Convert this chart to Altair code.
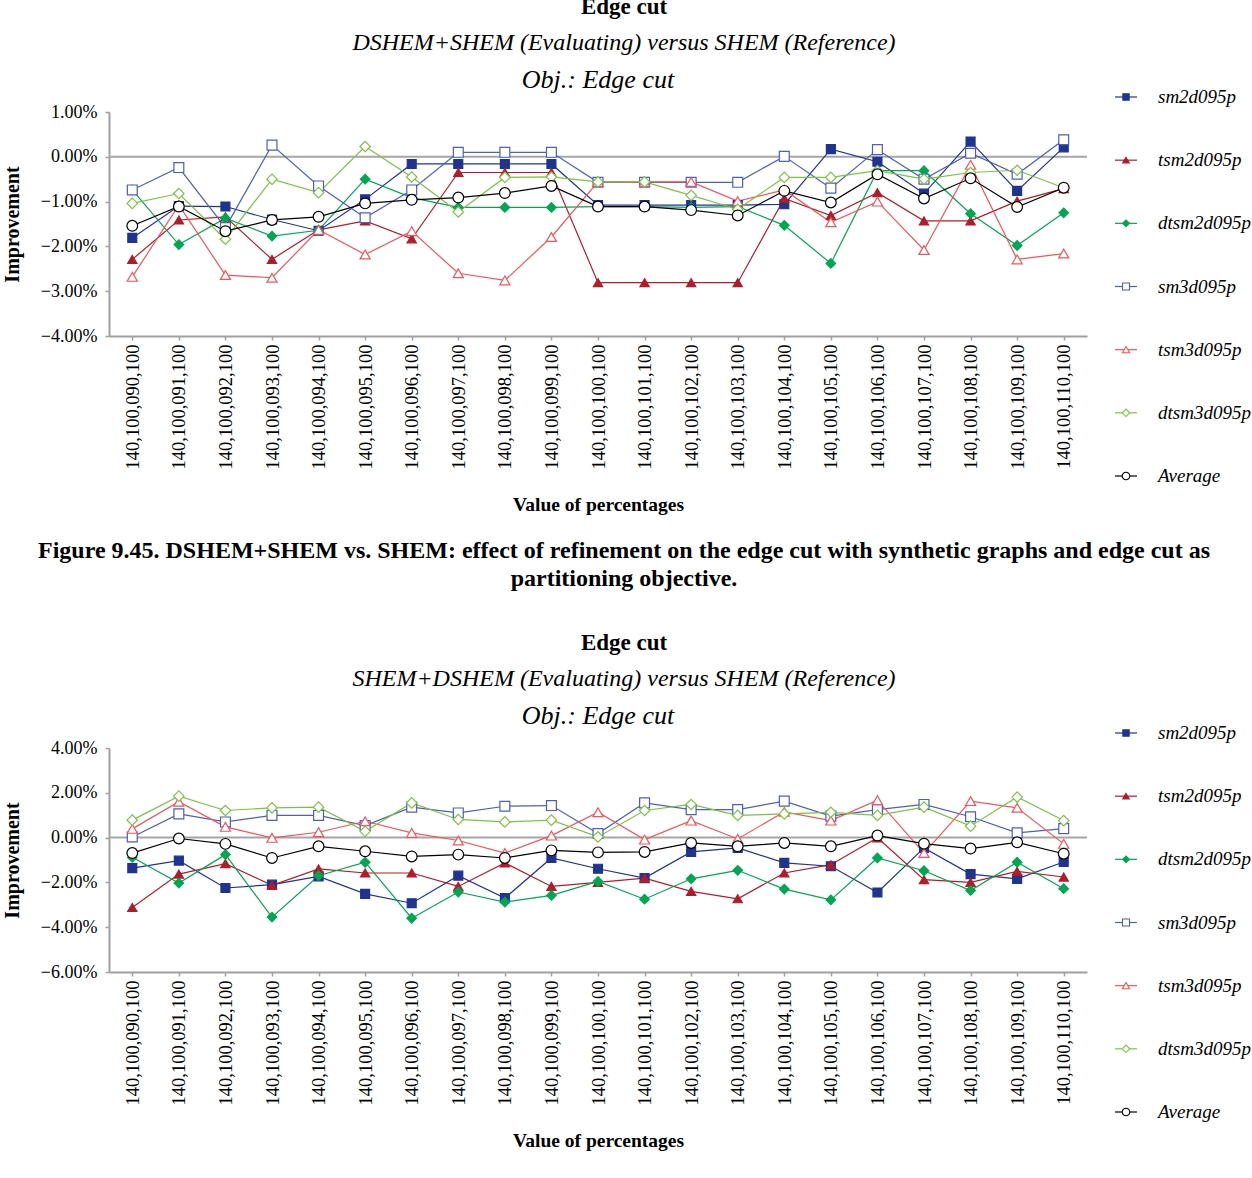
import altair as alt
import pandas as pd

FONT = "Liberation Serif"

categories = [
    "140,100,090,100", "140,100,091,100", "140,100,092,100", "140,100,093,100",
    "140,100,094,100", "140,100,095,100", "140,100,096,100", "140,100,097,100",
    "140,100,098,100", "140,100,099,100", "140,100,100,100", "140,100,101,100",
    "140,100,102,100", "140,100,103,100", "140,100,104,100", "140,100,105,100",
    "140,100,106,100", "140,100,107,100", "140,100,108,100", "140,100,109,100",
    "140,100,110,100",
]

series_names = ["sm2d095p", "tsm2d095p", "dtsm2d095p", "sm3d095p", "tsm3d095p", "dtsm3d095p", "Average"]

# Top chart: DSHEM+SHEM vs SHEM (values in %)
top_sm2d = [-1.81, -1.10, -1.11, -1.40, -1.65, -0.95, -0.16, -0.16, -0.16, -0.16, -1.08,
            -1.08, -1.08, -1.08, -1.06, 0.17, -0.11, -0.82, 0.34, -0.76, 0.21]
top_tsm2d = [-2.29, -1.41, -1.34, -2.29, -1.63, -1.43, -1.83, -0.35, -0.35, -0.35, -2.81,
             -2.81, -2.81, -2.81, -0.93, -1.31, -0.80, -1.43, -1.43, -0.99, -0.71]
top_dtsm2d = [-0.74, -1.96, -1.37, -1.77, -1.64, -0.50, -0.91, -1.13, -1.13, -1.13, -1.11,
              -1.11, -1.13, -1.11, -1.53, -2.38, -0.31, -0.31, -1.27, -1.98, -1.25]
top_sm3d = [-0.74, -0.24, -1.58, 0.26, -0.65, -1.36, -0.74, 0.10, 0.10, 0.10, -0.57,
            -0.57, -0.57, -0.57, 0.01, -0.70, 0.16, -0.50, 0.08, -0.39, 0.38]
top_tsm3d = [-2.68, -1.08, -2.64, -2.70, -1.63, -2.18, -1.66, -2.60, -2.76, -1.79, -0.56,
             -0.56, -0.56, -0.99, -0.74, -1.46, -1.00, -2.08, -0.18, -2.29, -2.16]
top_dtsm3d = [-1.04, -0.82, -1.84, -0.50, -0.80, 0.23, -0.45, -1.23, -0.46, -0.45, -0.56,
              -0.56, -0.86, -1.17, -0.46, -0.46, -0.31, -0.50, -0.35, -0.30, -0.69]
top_avg = [-1.54, -1.11, -1.66, -1.41, -1.34, -1.04, -0.96, -0.91, -0.81, -0.65, -1.11,
           -1.11, -1.19, -1.31, -0.76, -1.02, -0.39, -0.93, -0.48, -1.12, -0.69]

# Bottom chart: SHEM+DSHEM vs SHEM (values in %)
bot_sm2d = [-1.36, -1.03, -2.25, -2.10, -1.73, -2.51, -2.93, -1.70, -2.70, -0.91, -1.39,
            -1.81, -0.64, -0.46, -1.13, -1.28, -2.45, -0.46, -1.63, -1.84, -1.09]
bot_tsm2d = [-3.12, -1.63, -1.16, -2.13, -1.40, -1.58, -1.58, -2.18, -1.13, -2.18, -2.00,
             -1.81, -2.40, -2.73, -1.58, -1.21, -0.01, -1.88, -2.00, -1.51, -1.76]
bot_dtsm2d = [-0.88, -2.03, -0.76, -3.55, -1.70, -1.10, -3.60, -2.43, -2.88, -2.58, -1.96,
              -2.75, -1.84, -1.46, -2.30, -2.78, -0.91, -1.48, -2.36, -1.10, -2.28]
bot_sm3d = [0.03, 1.06, 0.70, 0.99, 0.99, 0.54, 1.36, 1.10, 1.40, 1.43, 0.18,
            1.55, 1.25, 1.25, 1.63, 0.96, 1.25, 1.48, 0.93, 0.21, 0.40]
bot_tsm3d = [0.39, 1.60, 0.48, -0.01, 0.24, 0.73, 0.21, -0.13, -0.69, 0.09, 1.13,
             -0.09, 0.76, -0.06, 1.15, 0.76, 1.67, -0.69, 1.63, 1.33, -0.28]
bot_dtsm3d = [0.78, 1.85, 1.21, 1.33, 1.36, 0.28, 1.55, 0.81, 0.70, 0.78, 0.03,
              1.21, 1.48, 0.99, 1.06, 1.13, 0.99, 1.36, 0.51, 1.81, 0.76]
bot_avg = [-0.69, -0.04, -0.28, -0.91, -0.39, -0.61, -0.84, -0.76, -0.91, -0.57, -0.66,
           -0.64, -0.24, -0.39, -0.24, -0.39, 0.09, -0.27, -0.49, -0.21, -0.72]

top_values = [top_sm2d, top_tsm2d, top_dtsm2d, top_sm3d, top_tsm3d, top_dtsm3d, top_avg]
bot_values = [bot_sm2d, bot_tsm2d, bot_dtsm2d, bot_sm3d, bot_tsm3d, bot_dtsm3d, bot_avg]

top_yticks = [1, 0, -1, -2, -3, -4]
bot_yticks = [4, 2, 0, -2, -4, -6]

title_text = "Edge cut"
top_subtitle = "DSHEM+SHEM (Evaluating) versus SHEM (Reference)"
bot_subtitle = "SHEM+DSHEM (Evaluating) versus SHEM (Reference)"
obj_text = "Obj.: Edge cut"
top_caption = ["Figure 9.45. DSHEM+SHEM vs. SHEM: effect of refinement on the edge cut with synthetic graphs and edge cut as",
               "partitioning objective."]
bot_caption = ["Figure 9.46. SHEM+DSHEM vs. SHEM: effect of refinement on the edge cut with synthetic graphs and edge cut as"]

# styles
stroke_colors = ["#1f3391", "#b01c2a", "#00a651", "#4d5fb8", "#f2545b", "#7dc242", "#000000"]
fill_colors = ["#1f3391", "#b01c2a", "#00a651", "white", "white", "white", "white"]
shapes = ["square", "triangle-up", "diamond", "square", "triangle-up", "diamond", "circle"]
sizes = [80, 115, 125, 80, 115, 125, 190]
legend_sizes = [40, 58, 58, 40, 58, 58, 75]

W, H = 978, 224


def text_layer(txt, x, y, size, weight="normal", style="normal"):
    return alt.Chart(pd.DataFrame({"t": [txt]})).mark_text(
        font=FONT, fontSize=size, fontWeight=weight, fontStyle=style,
        align="center", baseline="middle", color="black"
    ).encode(text="t:N", x=alt.value(x), y=alt.value(y))


def panel(values, ydom, yticks, subtitle, caption):
    rows = []
    for s, vals in zip(series_names, values):
        for i, c in enumerate(categories):
            rows.append({"cat": c, "idx": i, "series": s, "value": vals[i]})
    df = pd.DataFrame(rows)

    yscale = alt.Scale(domain=ydom, nice=False, zero=False)
    stroke_scale = alt.Scale(domain=series_names, range=stroke_colors)
    fill_scale = alt.Scale(domain=series_names, range=fill_colors)
    shape_scale = alt.Scale(domain=series_names, range=shapes)

    xaxis = alt.Axis(
        title="Value of percentages", labelAngle=-90, labelFont=FONT, labelFontSize=18.5,
        labelColor="black", labelPadding=4, tickSize=4, tickColor="#a0a0a0", tickWidth=1.5,
        domainColor="#a0a0a0", domainWidth=2, titleFont=FONT, titleFontSize=19.5,
        titleFontWeight="bold", titleColor="black", titlePadding=27, grid=False,
    )
    xenc = alt.X("cat:N", sort=categories, scale=alt.Scale(type="point", padding=0.5), axis=xaxis)
    yaxis = alt.Axis(
        title="Improvement", values=yticks, labelExpr="format(datum.value / 100, '.2%')",
        labelFont=FONT, labelFontSize=18, labelColor="black", labelPadding=8, tickSize=4,
        tickColor="#a0a0a0", tickWidth=1.5, domainColor="#a0a0a0", domainWidth=2,
        titleFont=FONT, titleFontSize=20, titleFontWeight="bold", titleColor="black",
        titlePadding=18, grid=False,
    )
    yenc = alt.Y("value:Q", scale=yscale, axis=yaxis)

    zero = alt.Chart(pd.DataFrame({"value": [0]})).mark_rule(color="#a6a6a6", strokeWidth=2).encode(
        y=yenc
    )
    lines = alt.Chart(df).mark_line(strokeWidth=1.2).encode(
        x=xenc,
        y=yenc,
        color=alt.Color("series:N", scale=stroke_scale, legend=None),
        detail="series:N",
        order=alt.Order("idx:Q"),
    )
    points = alt.Chart(df).mark_point(opacity=1, strokeWidth=1.2).encode(
        x=xenc,
        y=yenc,
        stroke=alt.Stroke("series:N", scale=stroke_scale, legend=None),
        fill=alt.Fill("series:N", scale=fill_scale, legend=None),
        shape=alt.Shape("series:N", scale=shape_scale, legend=None),
        size=alt.Size("series:N", scale=alt.Scale(domain=series_names, range=sizes), legend=None),
    )
    data_layer = alt.layer(zero, lines, points)

    # custom legend
    ldf = pd.DataFrame({"series": series_names})
    lscale = alt.Scale(type="point", domain=series_names, range=[-15, 364], padding=0)
    ly = alt.Y("series:N", scale=lscale, axis=None)
    leg_rule = alt.Chart(ldf).mark_rule(strokeWidth=1.2).encode(
        y=ly, x=alt.value(1006), x2=alt.value(1028),
        color=alt.Color("series:N", scale=stroke_scale, legend=None),
    )
    leg_pts = alt.Chart(ldf).mark_point(opacity=1, strokeWidth=1.1).encode(
        y=ly, x=alt.value(1017),
        stroke=alt.Stroke("series:N", scale=stroke_scale, legend=None),
        fill=alt.Fill("series:N", scale=fill_scale, legend=None),
        shape=alt.Shape("series:N", scale=shape_scale, legend=None),
        size=alt.Size("series:N", scale=alt.Scale(domain=series_names, range=legend_sizes), legend=None),
    )
    leg_txt = alt.Chart(ldf).mark_text(
        font=FONT, fontSize=19, fontStyle="italic", align="left", baseline="middle", color="black"
    ).encode(y=ly, x=alt.value(1049), text="series:N")
    legend_layer = alt.layer(leg_rule, leg_pts, leg_txt)

    texts = [
        text_layer(title_text, 515, -105, 23, weight="bold"),
        text_layer(subtitle, 515, -69, 24, style="italic"),
        text_layer(obj_text, 489, -32, 26, style="italic"),
    ]
    for k, line in enumerate(caption):
        texts.append(text_layer(line, 515, 439 + 28 * k, 24, weight="bold"))

    return alt.layer(data_layer, legend_layer, *texts).resolve_scale(
        y="independent", size="independent"
    ).properties(width=W, height=H)


top = panel(top_values, [-4, 1], top_yticks, top_subtitle, top_caption)
bot = panel(bot_values, [-6, 4], bot_yticks, bot_subtitle, bot_caption)

chart = alt.vconcat(top, bot, spacing=41).properties(
    padding={"left": 2, "top": -4, "right": 0, "bottom": 0}, background="white"
).configure_view(stroke=None)

chart.save("out.html", embed_options={"renderer": "svg", "actions": False})
